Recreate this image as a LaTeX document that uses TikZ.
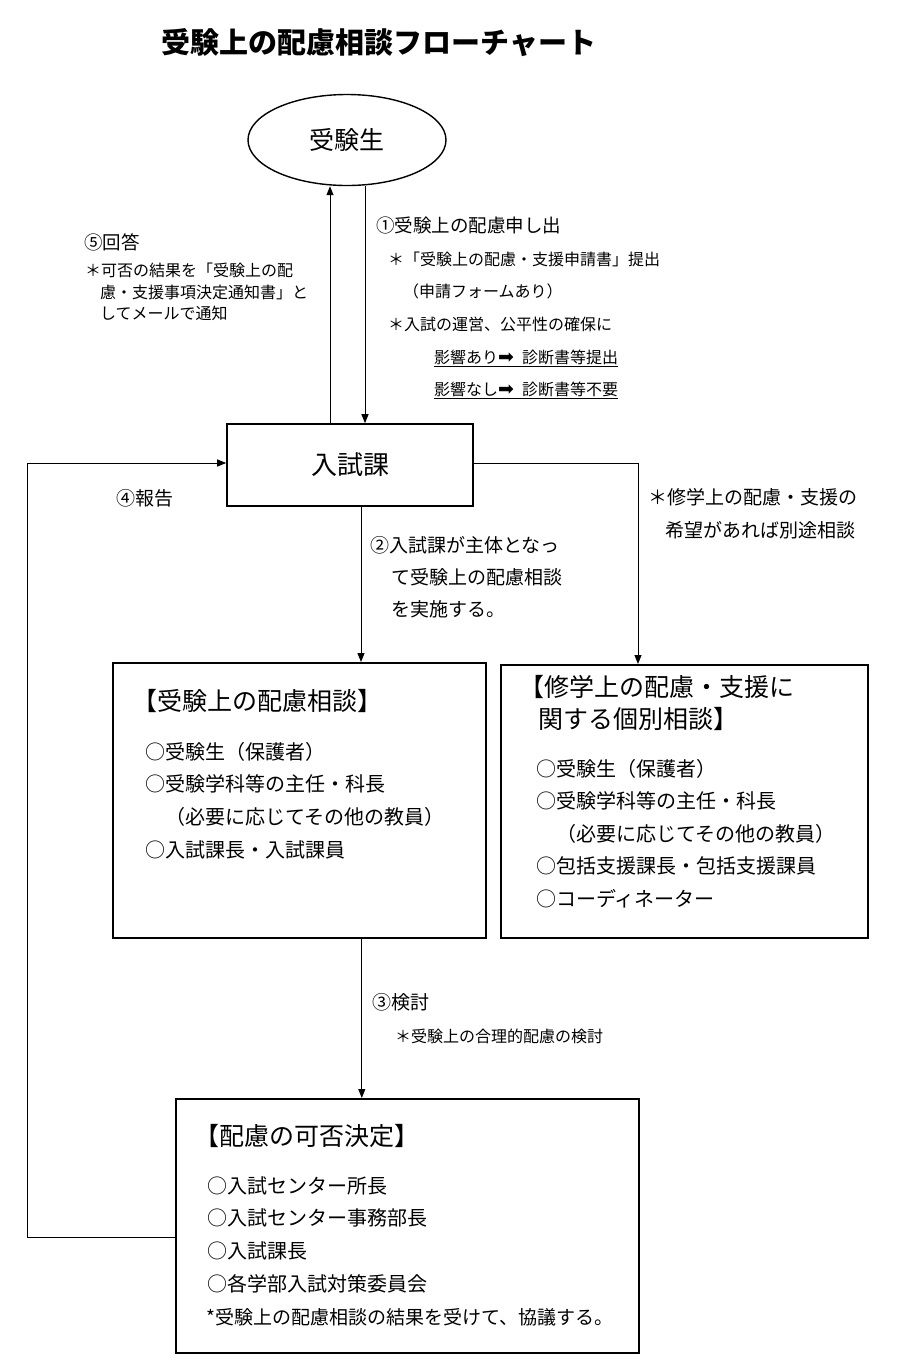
\documentclass[tikz,border=0pt]{standalone}
\usepackage{fontspec}
\setmainfont{Noto Sans CJK JP}
\newfontfamily\symfont{DejaVu Sans}
\usetikzlibrary{arrows.meta,positioning,shapes.geometric}
\newcommand{\jfs}[1]{\fontsize{#1}{#1}\selectfont}

\begin{document}
\begin{tikzpicture}[
  x=1pt,y=-1pt,
  font=\jfs{19},
  box/.style={draw,line width=1.6pt,inner sep=0pt,anchor=north west},
  lbl/.style={anchor=west,inner sep=0pt,text height=0.7em,text depth=0.3em,yshift=-4pt},
  note/.style={lbl,font=\jfs{16}},
  arr/.style={-{Triangle[length=9pt,width=7pt]},line width=1pt}
]
\useasboundingbox (0,0) rectangle (900,1369);
% title
\node[font=\jfs{29}\bfseries] (title) at (379,43) {受験上の配慮相談フローチャート};
% main nodes
\node[ellipse,draw,line width=1.4pt,minimum width=198pt,minimum height=91pt,
  inner sep=0pt,font=\jfs{25}] (jukensei) at (347,140) {受験生};
\node[box,anchor=center,minimum width=246pt,minimum height=82pt,
  font=\jfs{26}] (nyushika) at (350,465) {入試課};
\node[box,minimum width=373pt,minimum height=275pt] (hairyo) at (112,662) {};
\node[box,minimum width=367pt,minimum height=273pt] (shugaku) at (500,664) {};
\node[box,minimum width=463pt,minimum height=254pt] (kahi) at (175,1098) {};
% box contents
\node[lbl,font=\jfs{25}] (hairyo-t) at (132,704) {【受験上の配慮相談】};
\foreach \t [count=\i] in {○受験生（保護者）,○受験学科等の主任・科長,
    \hspace*{1em}（必要に応じてその他の教員）,○入試課長・入試課員}
  \node[lbl,font=\jfs{20}] (hairyo-\i) at (145,{753+32.7*(\i-1)}) {\t};
\node[lbl,font=\jfs{25}] (shugaku-t1) at (519,690) {【修学上の配慮・支援に};
\node[lbl,font=\jfs{25}] (shugaku-t2) at (538,722) {関する個別相談】};
\foreach \t [count=\i] in {○受験生（保護者）,○受験学科等の主任・科長,
    \hspace*{1em}（必要に応じてその他の教員）,○包括支援課長・包括支援課員,
    ○コーディネーター}
  \node[lbl,font=\jfs{20}] (shugaku-\i) at (536,{770+32.5*(\i-1)}) {\t};
\node[lbl,font=\jfs{25}] (kahi-t) at (194,1139) {【配慮の可否決定】};
\foreach \t [count=\i] in {○入試センター所長,○入試センター事務部長,
    ○入試課長,○各学部入試対策委員会}
  \node[lbl,font=\jfs{20}] (kahi-\i) at (207,{1187+32.7*(\i-1)}) {\t};
\node[lbl] (kahi-n) at (206,1318) {*受験上の配慮相談の結果を受けて、協議する。};
% step labels
\node[lbl,font=\jfs{18.5}] (req) at (376,226) {①受験上の配慮申し出};
\node[note] (req-1) at (388,259) {＊「受験上の配慮・支援申請書」提出};
\node[note] (req-2) at (403,291) {（申請フォームあり）};
\node[note] (req-3) at (388,324) {＊入試の運営、公平性の確保に};
\node[note] (req-4) at (434,357) {\underline{影響あり{\symfont\jfs{19}➡}\hspace{0.5em}診断書等提出}};
\node[note] (req-5) at (434,389) {\underline{影響なし{\symfont\jfs{19}➡}\hspace{0.5em}診断書等不要}};
\node[lbl,font=\jfs{18.5}] (ans) at (84,243) {⑤回答};
\node[note] (ans-1) at (85,270) {＊可否の結果を「受験上の配};
\node[note] (ans-2) at (100,292) {慮・支援事項決定通知書」と};
\node[note] (ans-3) at (100,313) {してメールで通知};
\node[lbl] (rep) at (116,499) {④報告};
\node[lbl] (side-1) at (648,498) {＊修学上の配慮・支援の};
\node[lbl] (side-2) at (665,531) {希望があれば別途相談};
\node[lbl] (st2-1) at (370,546) {②入試課が主体となっ};
\node[lbl] (st2-2) at (391,578) {て受験上の配慮相談};
\node[lbl] (st2-3) at (391,610) {を実施する。};
\node[lbl] (st3) at (372,1003) {③検討};
\node[note] (st3-1) at (395,1036) {＊受験上の合理的配慮の検討};
% connectors
\draw[arr] ([xshift=-20pt]nyushika.north) -- ([xshift=-20pt]nyushika.north |- jukensei.south);
\draw[arr] ([xshift=18pt]jukensei.south) -- ([xshift=18pt]jukensei.south |- nyushika.north);
\draw[arr] ([yshift=2pt]nyushika.east) -| ([xshift=138pt]shugaku.north west);
\draw[arr] ([xshift=11pt]nyushika.south) -- ([xshift=11pt]nyushika.south |- hairyo.north);
\draw[arr] ([xshift=62.5pt]hairyo.south) -- ([xshift=62.5pt]hairyo.south |- kahi.north);
\coordinate (fb) at (27,1237);
\draw[arr] (kahi.west |- fb) -- (fb) |- ([yshift=2pt]nyushika.west);
\end{tikzpicture}
\end{document}
